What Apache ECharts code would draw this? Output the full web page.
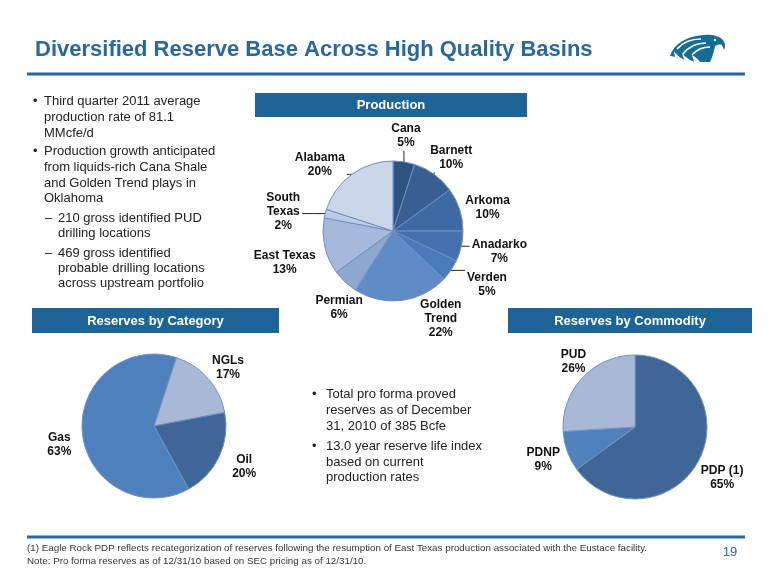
<!DOCTYPE html>
<html><head><meta charset="utf-8">
<script src="https://cdn.jsdelivr.net/npm/echarts@6/dist/echarts.min.js"></script>
<style>html,body{margin:0;padding:0;background:#fff}#c{width:780px;height:585px}</style>
</head><body><div id="c"></div>
<script>
// ---- data ----
const productionNames = ['Cana','Barnett','Arkoma','Anadarko','Verden','Golden\nTrend','Permian','East Texas','South\nTexas','Alabama'];
const productionValues = [5,10,10,7,5,22,6,13,2,20];
const categoryNames = ['NGLs','Oil','Gas'];
const categoryValues = [17,20,63];
const commodityNames = ['PDP (1)','PDNP','PUD'];
const commodityValues = [65,9,26];

// ---- styles ----
const FONT = '"Liberation Sans", Arial, sans-serif';
const BLUE = '#1f6496';
const TITLE = '#2768a0';
const productionColors = ['#2f5281','#385e92','#3f69a3','#4571ae','#4b7aba','#5f8bc6','#8ea7d1','#a6b9dc','#bccbe6','#ccd6ea'];
const categoryColors = ['#a8b9d8','#3e6697','#4f81bd'];
const commodityColors = ['#3e6697','#4f81bd','#a8b9d8'];
// label placement (offset of label centre from slice edge point) and leader flags
const productionLabelShift = [[2,-26],[17,-17],[28,-2],[38,5],[36,14],[39,18],[-6,26],[-40,16],[-42,-2],[-32,-10]];
const productionLeader = [true,true,false,true,true,false,false,false,true,true];
const categoryLabelShift = [[20,-11],[25,10],[-23,12]];
const commodityLabelShift = [[23,18],[-24,8],[-9,-16]];

function makeLayout(shifts, leaders) {
  return function (p) {
    const pts = p.labelLinePoints;
    if (!pts) return {};
    const e = pts[0];
    const s = shifts[p.dataIndex];
    const cx = e[0] + s[0], cy = e[1] + s[1];
    const w = p.labelRect.width, h = p.labelRect.height;
    let line = [e.slice(), e.slice(), e.slice()];
    if (leaders && leaders[p.dataIndex]) {
      const ex = Math.max(cx - w / 2 - 2, Math.min(cx + w / 2 + 2, e[0]));
      const ey = Math.max(cy - h / 2 - 1, Math.min(cy + h / 2 + 1, e[1]));
      const mid = [(e[0] + ex) / 2, (e[1] + ey) / 2];
      line = [e.slice(), mid, [ex, ey]];
    }
    return { x: cx, y: cy, align: 'center', verticalAlign: 'middle', labelLinePoints: line };
  };
}

function pieSeries(names, values, colors, center, radius, startAngle, shifts, leaders, borderColor) {
  return {
    type: 'pie',
    center: center,
    radius: radius,
    startAngle: startAngle,
    clockwise: true,
    avoidLabelOverlap: false,
    animation: false,
    silent: true,
    itemStyle: { borderColor: borderColor, borderWidth: 1 },
    label: {
      show: true, position: 'outside', formatter: '{b}\n{c}%',
      fontFamily: FONT, fontWeight: 'bold', fontSize: 12, lineHeight: 14, color: '#111'
    },
    labelLine: { show: true, length: 4, length2: 4, lineStyle: { color: '#222', width: 1 } },
    labelLayout: makeLayout(shifts, leaders),
    data: names.map((n, i) => ({ name: n, value: values[i], itemStyle: { color: colors[i] } }))
  };
}

function txt(x, y, text, opts) {
  return {
    type: 'text', x: x, y: y, silent: true,
    style: Object.assign({ text: text, font: '13px ' + FONT, fill: '#222', verticalAlign: 'middle', align: 'left' }, opts || {})
  };
}
function bar(x, y, w, h, label) {
  return [
    { type: 'rect', shape: { x: x, y: y, width: w, height: h }, style: { fill: BLUE }, silent: true },
    { type: 'text', x: x + w / 2, y: y + h / 2 + 0.5, silent: true,
      style: { text: label, font: 'bold 13px ' + FONT, fill: '#fff', align: 'center', verticalAlign: 'middle' } }
  ];
}

const leftLines = [
  ['•', 33, 101, 'Third quarter 2011 average', 44],
  [null, 0, 117, 'production rate of 81.1', 44],
  [null, 0, 133, 'MMcfe/d', 44],
  ['•', 33, 151, 'Production growth anticipated', 44],
  [null, 0, 167, 'from liquids-rich Cana Shale', 44],
  [null, 0, 183, 'and Golden Trend plays in', 44],
  [null, 0, 198, 'Oklahoma', 44],
  ['–', 45, 218, '210 gross identified PUD', 58],
  [null, 0, 233, 'drilling locations', 58],
  ['–', 45, 253, '469 gross identified', 58],
  [null, 0, 268, 'probable drilling locations', 58],
  [null, 0, 283, 'across upstream portfolio', 58]
];
const midLines = [
  ['•', 312, 394, 'Total pro forma proved', 326],
  [null, 0, 410, 'reserves as of December', 326],
  [null, 0, 426, '31, 2010 of 385 Bcfe', 326],
  ['•', 312, 446, '13.0 year reserve life index', 326],
  [null, 0, 462, 'based on current', 326],
  [null, 0, 477, 'production rates', 326]
];

const graphics = [];
graphics.push(txt(35, 50, 'Diversified Reserve Base Across High Quality Basins', { font: 'bold 22px ' + FONT, fill: TITLE }));
graphics.push({ type: 'rect', shape: { x: 27, y: 72.5, width: 718, height: 3 }, style: { fill: TITLE }, silent: true });
graphics.push({ type: 'rect', shape: { x: 27, y: 535.5, width: 718, height: 3 }, style: { fill: TITLE }, silent: true });
graphics.push(...bar(255, 93, 272, 24, 'Production'));
graphics.push(...bar(32, 308, 247, 25, 'Reserves by Category'));
graphics.push(...bar(508, 308, 244, 25, 'Reserves by Commodity'));
leftLines.concat(midLines).forEach(l => {
  if (l[0]) graphics.push(txt(l[1], l[2], l[0]));
  graphics.push(txt(l[4], l[2], l[3]));
});
graphics.push(txt(27, 548, '(1) Eagle Rock PDP reflects recategorization of reserves following the resumption of East Texas production associated with the Eustace facility.', { font: '9.8px ' + FONT, fill: '#333' }));
graphics.push(txt(27, 561, 'Note: Pro forma reserves as of 12/31/10 based on SEC pricing as of 12/31/10.', { font: '9.8px ' + FONT, fill: '#333' }));
graphics.push(txt(730, 552, '19', { font: '13px ' + FONT, fill: TITLE, align: 'center' }));

// logo (eagle head) drawn as a custom element
const logoSeries = {
  type: 'custom', coordinateSystem: 'none', silent: true, animation: false,
  data: [0],
  renderItem: function () {
    const w = (d) => ({ type: 'path', shape: { pathData: d }, style: { stroke: '#fff', lineWidth: 1.6, fill: null } });
    return {
      type: 'group', x: 670, y: 34,
      children: [
        { type: 'path', shape: { pathData: 'M0,22 C4,10 16,2 34,1 C42,0 48,2 52,5 C55,8 56,12 54,16 L52,11 C50,10 47,11 45,12 C44,18 42,24 40,28 L30,28 C27,24 24,22 22,21 L24,28 C18,25 14,22 12,19 L14,26 C9,23 6,20 4,17 L5,23 C3,22 1,22 0,22 Z' },
          style: { fill: '#176c94' } },
        w('M7,15 C13,8 22,5 31,5'),
        w('M13,20 C19,12 27,9 36,9'),
        w('M22,21 C27,15 33,13 40,13'),
        { type: 'circle', shape: { cx: 45, cy: 6, r: 1.2 }, style: { fill: '#fff' } }
      ]
    };
  }
};

const chart = echarts.init(document.getElementById('c'), null, { renderer: 'canvas' });
chart.setOption({
  backgroundColor: '#fff',
  animation: false,
  graphic: graphics,
  series: [
    pieSeries(productionNames, productionValues, productionColors, [393, 231], 70, 90, productionLabelShift, productionLeader, '#6f8fc3'),
    pieSeries(categoryNames, categoryValues, categoryColors, [154, 426], 72, 72, categoryLabelShift, null, '#7391c2'),
    pieSeries(commodityNames, commodityValues, commodityColors, [635, 427], 72, 90, commodityLabelShift, null, '#7391c2'),
    logoSeries
  ]
});
</script>
</body></html>
